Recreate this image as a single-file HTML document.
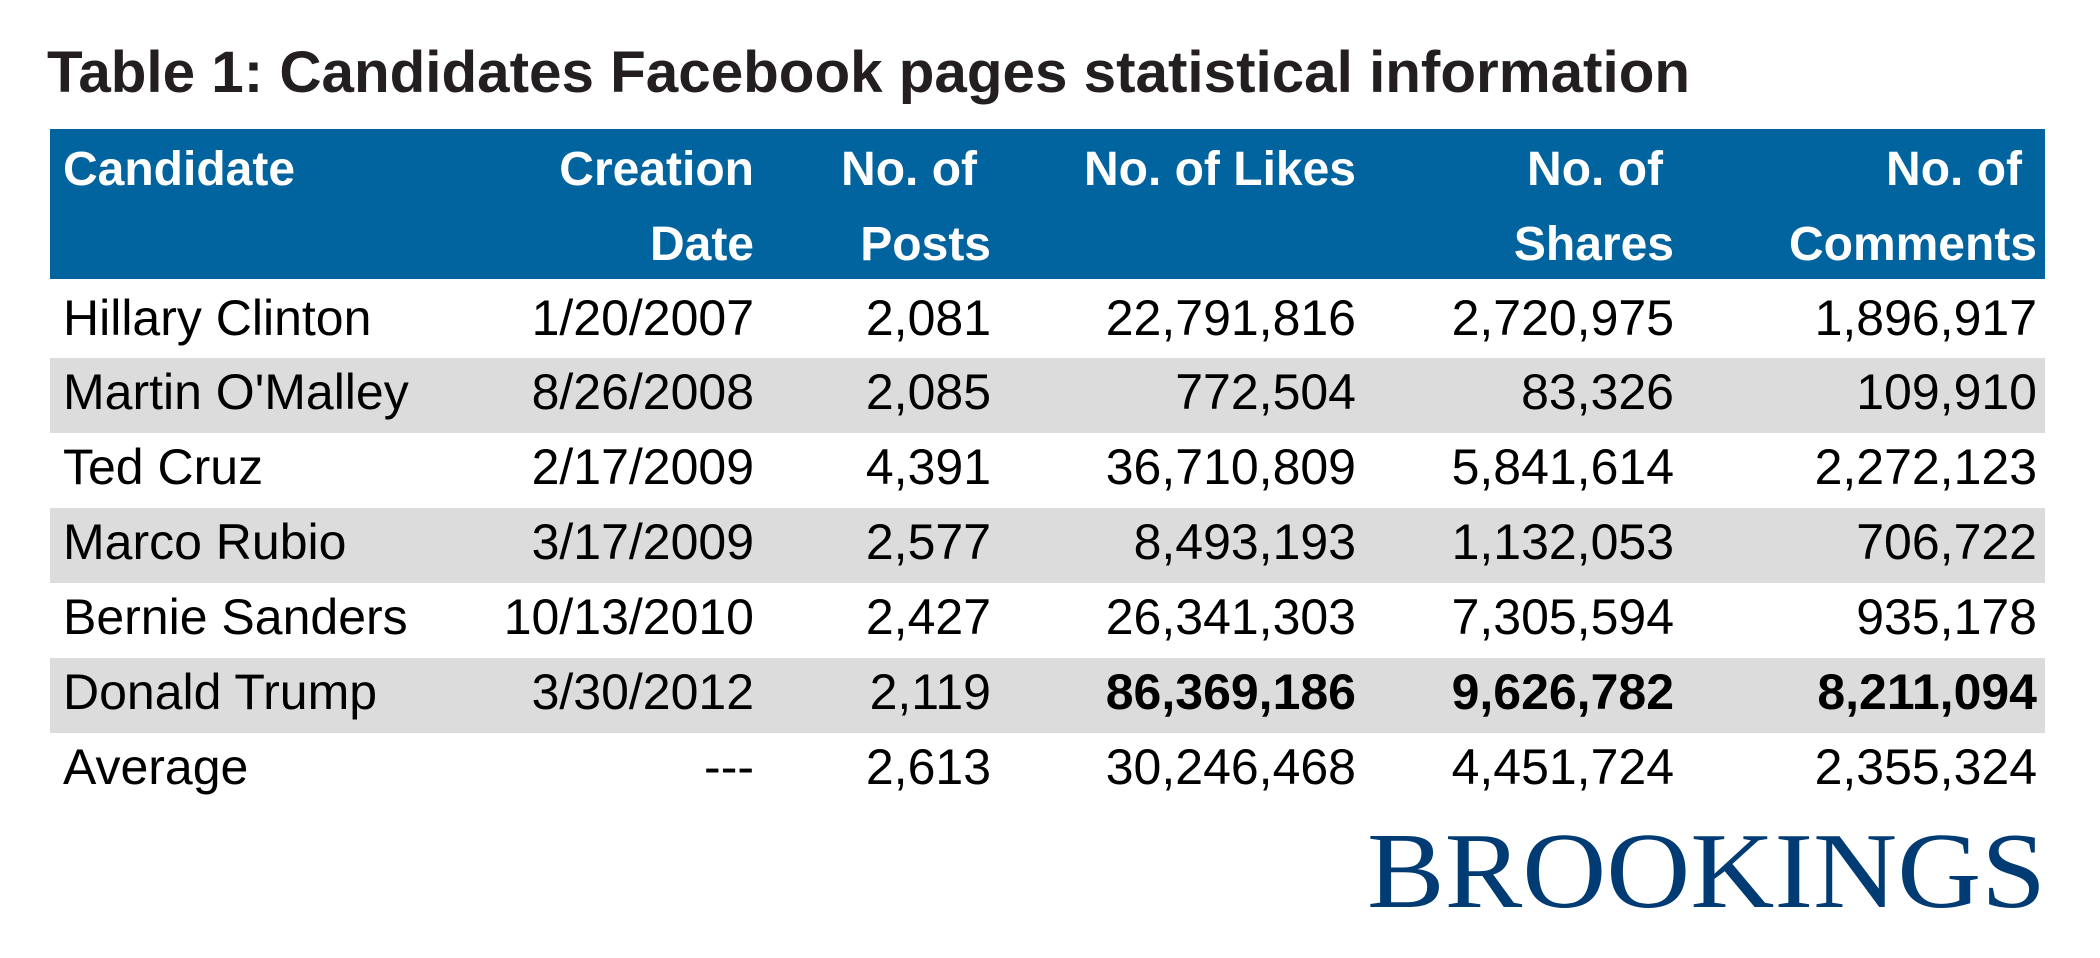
<!DOCTYPE html>
<html><head><meta charset="utf-8"><style>
html,body{margin:0;padding:0;background:#fff;}
svg{display:block;}
.s{font-family:"Liberation Sans",Arial,sans-serif;}
</style></head><body>
<svg width="2100" height="958" viewBox="0 0 2100 958" xmlns="http://www.w3.org/2000/svg">
<text class="s" x="47" y="92" font-size="58" font-weight="bold" fill="#231f20" textLength="1643" lengthAdjust="spacingAndGlyphs">Table 1: Candidates Facebook pages statistical information</text>
<rect x="50" y="129" width="1995" height="150" fill="#02649f"/>
<g class="s" fill="#fff" font-size="48" font-weight="bold">
<text x="63" y="185">Candidate</text>
<text x="754" y="185" text-anchor="end">Creation</text>
<text x="754" y="260" text-anchor="end">Date</text>
<text x="977" y="185" text-anchor="end">No. of</text>
<text x="991" y="260" text-anchor="end">Posts</text>
<text x="1356" y="185" text-anchor="end">No. of Likes</text>
<text x="1663" y="185" text-anchor="end">No. of</text>
<text x="1674" y="260" text-anchor="end">Shares</text>
<text x="2022" y="185" text-anchor="end">No. of</text>
<text x="2037" y="260" text-anchor="end">Comments</text>
</g>
<g id="rows" class="s"></g>
<text x="1367" y="907" style="font-family:'Liberation Serif',serif" font-size="108" fill="#003b73" textLength="679" lengthAdjust="spacingAndGlyphs">BROOKINGS</text>
</svg>
<script>
const names=["Hillary Clinton","Martin O'Malley","Ted Cruz","Marco Rubio","Bernie Sanders","Donald Trump","Average"];
const dates=["1/20/2007","8/26/2008","2/17/2009","3/17/2009","10/13/2010","3/30/2012","---"];
const posts=["2,081","2,085","4,391","2,577","2,427","2,119","2,613"];
const likes=["22,791,816","772,504","36,710,809","8,493,193","26,341,303","86,369,186","30,246,468"];
const shares=["2,720,975","83,326","5,841,614","1,132,053","7,305,594","9,626,782","4,451,724"];
const comments=["1,896,917","109,910","2,272,123","706,722","935,178","8,211,094","2,355,324"];
const NS="http://www.w3.org/2000/svg";
const g=document.getElementById('rows');
names.forEach((n,i)=>{
  const top=i===0?279:358+75*(i-1);
  const h=i===0?79:75;
  if(i%2===1){
    const r=document.createElementNS(NS,'rect');
    r.setAttribute('x',50);r.setAttribute('y',top);r.setAttribute('width',1995);r.setAttribute('height',h);r.setAttribute('fill','#dcdcdc');
    
    
    g.appendChild(r);
  }
  const base=i===0?335:top+51;
  const cells=[[n,63,'start',false],[dates[i],754,'end',false],[posts[i],991,'end',false],[likes[i],1356,'end',i===5],[shares[i],1674,'end',i===5],[comments[i],2037,'end',i===5]];
  cells.forEach(c=>{
    const t=document.createElementNS(NS,'text');
    t.setAttribute('x',c[1]);t.setAttribute('y',base);t.setAttribute('text-anchor',c[2]);
    t.setAttribute('font-size','50');t.setAttribute('fill','#000');
    if(c[3])t.setAttribute('font-weight','bold');
    t.textContent=c[0];
    
    
    g.appendChild(t);
  });
});
</script>
</body></html>
